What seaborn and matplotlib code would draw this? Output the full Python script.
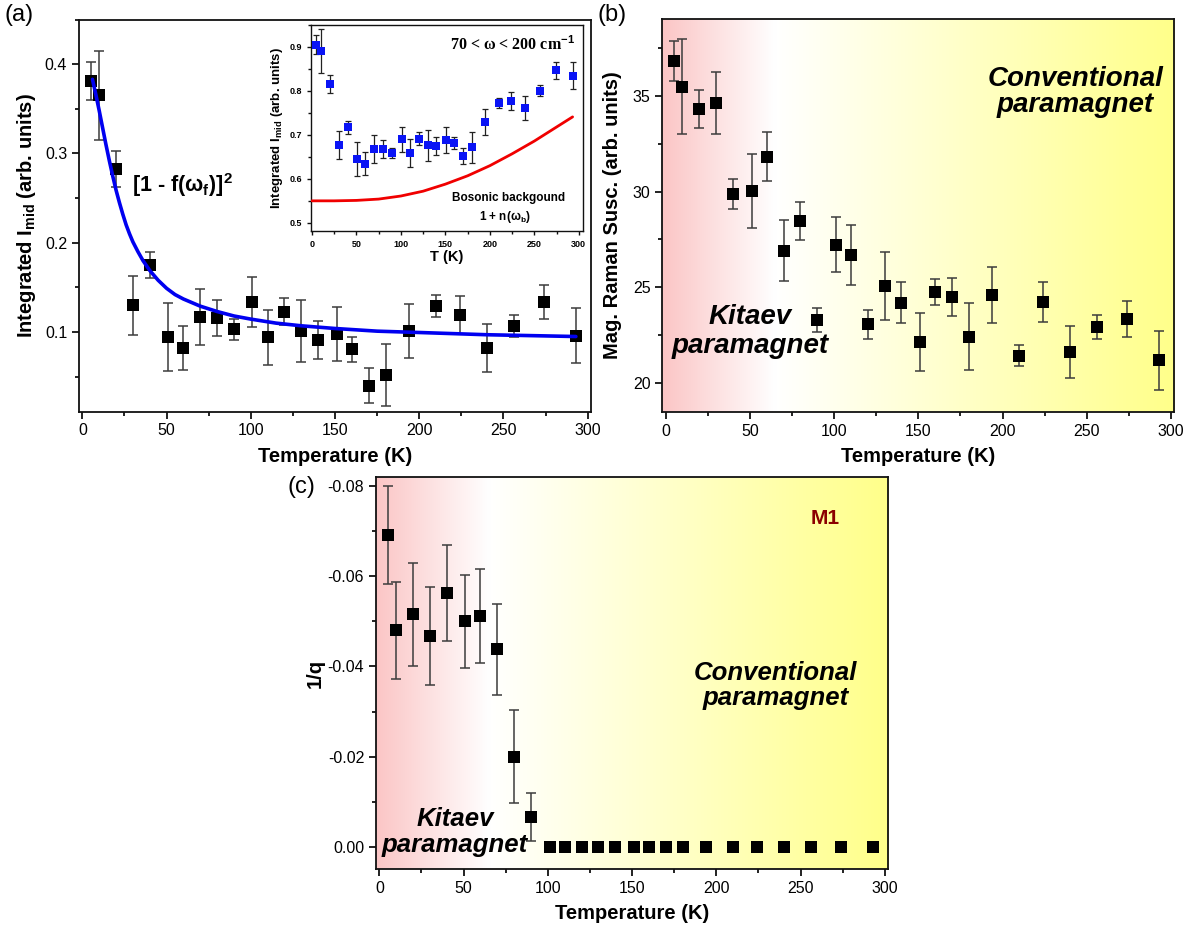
"""
Three-panel figure: integrated mid intensity, magnetic Raman susceptibility
and Fano asymmetry 1/q versus temperature
"""

import numpy as np
import matplotlib

matplotlib.use("Agg")
import matplotlib.pyplot as plt
from matplotlib.colors import LinearSegmentedColormap
from matplotlib.ticker import MultipleLocator, FormatStrFormatter
import seaborn as sns

# temperatures shared by every data set (K)
temps = [5, 10, 20, 30, 40, 51, 60, 70, 80, 90, 101, 110, 120, 130, 140,
         151, 160, 170, 180, 194, 210, 224, 240, 256, 274, 293]

# (a) integrated I_mid, main panel
imid = [0.381, 0.365, 0.283, 0.130, 0.175, 0.094, 0.082, 0.117, 0.116, 0.103,
        0.134, 0.094, 0.123, 0.101, 0.091, 0.098, 0.081, 0.040, 0.052, 0.101,
        0.129, 0.119, 0.082, 0.107, 0.134, 0.096]
imid_err = [0.021, 0.050, 0.020, 0.033, 0.015, 0.038, 0.025, 0.031, 0.020, 0.012,
            0.028, 0.031, 0.015, 0.035, 0.021, 0.030, 0.014, 0.020, 0.035, 0.030,
            0.012, 0.021, 0.027, 0.0125, 0.019, 0.031]

# [1 - f(w_f)]^2 fit curve
fit_T = [6, 8, 10, 12, 14, 16, 18, 20, 22, 24, 26, 28, 30, 33, 36, 40, 45, 50,
         55, 60, 70, 80, 90, 100, 115, 130, 150, 175, 200, 240, 293]
fit_vals = [0.383, 0.366, 0.348, 0.329, 0.310, 0.292, 0.275, 0.259, 0.245,
            0.232, 0.220, 0.210, 0.201, 0.190, 0.180, 0.169, 0.158, 0.149,
            0.142, 0.137, 0.129, 0.123, 0.118, 0.1145, 0.110, 0.107, 0.104,
            0.101, 0.0995, 0.097, 0.095]

# (a) inset: 70 < w < 200 cm-1
inset_vals = [0.905, 0.891, 0.816, 0.677, 0.717, 0.645, 0.634, 0.667, 0.668, 0.659,
              0.690, 0.659, 0.691, 0.676, 0.675, 0.689, 0.681, 0.652, 0.672, 0.730,
              0.772, 0.777, 0.761, 0.801, 0.847, 0.835]
inset_err = [0.022, 0.050, 0.020, 0.032, 0.015, 0.039, 0.026, 0.032, 0.020, 0.012,
             0.029, 0.031, 0.015, 0.036, 0.021, 0.030, 0.014, 0.019, 0.035, 0.030,
             0.011, 0.021, 0.027, 0.012, 0.019, 0.031]

# bosonic background 1 + n(w_b)
bg_T = [0, 25, 50, 75, 100, 125, 150, 175, 200, 225, 250, 275, 293]
bg_vals = [0.550, 0.550, 0.551, 0.554, 0.561, 0.572, 0.588, 0.607, 0.630,
           0.657, 0.686, 0.718, 0.741]

# (b) magnetic Raman susceptibility
susc = [36.85, 35.49, 34.32, 34.65, 29.89, 30.05, 31.81, 26.91, 28.45, 23.27,
        27.22, 26.68, 23.06, 25.06, 24.19, 22.12, 24.75, 24.50, 22.40, 24.58,
        21.40, 24.23, 21.60, 22.90, 23.32, 21.16]
susc_err = [1.05, 2.50, 0.99, 1.62, 0.79, 1.94, 1.28, 1.58, 1.00, 0.62,
            1.43, 1.55, 0.76, 1.80, 1.07, 1.50, 0.70, 0.99, 1.75, 1.48,
            0.55, 1.06, 1.37, 0.62, 0.94, 1.55]

# (c) Fano 1/q of mode M1
inv_q = [-0.0691, -0.0480, -0.0516, -0.0468, -0.0563, -0.0500, -0.0512, -0.0438,
         -0.0200, -0.0067, 0.0, 0.0, 0.0, 0.0, 0.0, 0.0, 0.0, 0.0, 0.0, 0.0,
         0.0, 0.0, 0.0, 0.0, 0.0, 0.0]
inv_q_err = [0.0108, 0.0107, 0.0114, 0.0108, 0.0107, 0.0103, 0.0105, 0.0101,
             0.0103, 0.0053, 0, 0, 0, 0, 0, 0, 0, 0, 0, 0, 0, 0, 0, 0, 0, 0]

sns.set_theme(style="ticks")
plt.rcParams["font.family"] = ["Liberation Sans", "DejaVu Sans"]
plt.rcParams["axes.unicode_minus"] = False
plt.rcParams["mathtext.fontset"] = "custom"
plt.rcParams["mathtext.rm"] = "Liberation Sans:bold"
plt.rcParams["mathtext.bf"] = "Liberation Sans:bold"
plt.rcParams["mathtext.default"] = "bf"
for key in ["text.color", "axes.labelcolor", "xtick.color", "ytick.color",
            "axes.edgecolor"]:
    plt.rcParams[key] = "black"

bg_cmap = LinearSegmentedColormap.from_list(
    "kitaev", [(0.0, "#fbc6c6"), (0.22, "#ffffff"), (1.0, "#ffff8a")]
)
ebar_kw = dict(fmt="none", ecolor="#3c3c3c", elinewidth=1.1, capsize=3.5, capthick=1.1)


def shade(ax):
    """Pink -> white -> yellow background"""
    ax.imshow(np.linspace(0, 1, 256).reshape(1, -1), cmap=bg_cmap, aspect="auto",
              extent=(0, 1, 0, 1), transform=ax.transAxes, zorder=0,
              interpolation="bilinear")


def style(ax, tick_size=11.5, bold=False, lw=1.3, major=5, minor=3):
    for sp in ax.spines.values():
        sp.set_visible(True)
        sp.set_linewidth(lw)
        sp.set_color("#111111")
    ax.tick_params(which="major", direction="out", length=major, width=lw,
                   labelsize=tick_size, top=False, right=False, color="#111111",
                   labelcolor="black")
    ax.tick_params(which="minor", direction="out", length=minor, width=lw,
                   top=False, right=False, color="#111111")
    if bold:
        for lab in ax.get_xticklabels() + ax.get_yticklabels():
            lab.set_fontweight("bold")
    ax.grid(False)


def temp_axis(ax):
    ax.set_xlim(-2, 302)
    ax.xaxis.set_major_locator(MultipleLocator(50))
    ax.xaxis.set_minor_locator(MultipleLocator(25))
    ax.set_xlabel("Temperature (K)", fontsize=14.5, fontweight="bold", labelpad=6)


fig = plt.figure(figsize=(11.95, 9.3), dpi=100)

# ---------------- (a) ----------------
ax_a = fig.add_axes([0.0661, 0.5575, 0.4285, 0.4215])
ax_a.errorbar(temps, imid, yerr=imid_err, zorder=2, **ebar_kw)
sns.scatterplot(x=temps, y=imid, marker="s", s=64, color="black", linewidth=0,
                ax=ax_a, zorder=3)
sns.lineplot(x=fit_T, y=fit_vals, sort=False, estimator=None, color="#0000f0",
             linewidth=2.6, ax=ax_a, zorder=4)
temp_axis(ax_a)
ax_a.set_ylim(0.011, 0.45)
ax_a.yaxis.set_major_locator(MultipleLocator(0.1))
ax_a.yaxis.set_minor_locator(MultipleLocator(0.05))
ax_a.yaxis.set_major_formatter(FormatStrFormatter("%.1f"))
ax_a.set_ylabel(r"Integrated I$_{\mathrm{mid}}$ (arb. units)", fontsize=14.5,
                fontweight="bold", labelpad=5)
ax_a.text(0.103, 0.578, r"[1 - f($\omega_\mathrm{f}$)]$^2$", transform=ax_a.transAxes,
          fontsize=15.5, fontweight="bold", ha="left", va="center")
style(ax_a)

# inset
ax_in = fig.add_axes([0.2603, 0.7519, 0.2278, 0.2212])
ax_in.set_facecolor("white")
ax_in.errorbar(temps, inset_vals, yerr=inset_err, fmt="none", ecolor="#222222",
               elinewidth=0.9, capsize=2.5, capthick=0.9, zorder=2)
sns.scatterplot(x=temps, y=inset_vals, marker="s", s=30, color="#0a14f5",
                linewidth=0, ax=ax_in, zorder=3)
sns.lineplot(x=bg_T, y=bg_vals, sort=False, estimator=None, color="#f00000",
             linewidth=2.0, ax=ax_in, zorder=4)
ax_in.set_xlim(-1, 305)
ax_in.set_ylim(0.482, 0.95)
ax_in.xaxis.set_major_locator(MultipleLocator(50))
ax_in.xaxis.set_minor_locator(MultipleLocator(25))
ax_in.yaxis.set_major_locator(MultipleLocator(0.1))
ax_in.yaxis.set_minor_locator(MultipleLocator(0.05))
ax_in.yaxis.set_major_formatter(FormatStrFormatter("%.1f"))
ax_in.set_xlabel("T (K)", fontsize=10.5, fontweight="bold", labelpad=1)
ax_in.set_ylabel(r"Integrated I$_{\mathrm{mid}}$ (arb. units)", fontsize=9.5,
                 fontweight="bold", labelpad=3)
ax_in.text(0.739, 0.903, "70 < \u03c9 < 200 cm$^{-1}$", transform=ax_in.transAxes,
           fontsize=11.5, fontweight="bold", family="Liberation Serif",
           ha="center", va="center")
ax_in.text(0.726, 0.159, "Bosonic backgound", transform=ax_in.transAxes,
           fontsize=8.5, fontweight="bold", ha="center", va="center")
ax_in.text(0.713, 0.067, r"1 + n($\omega_\mathrm{b}$)", transform=ax_in.transAxes,
           fontsize=8.5, fontweight="bold", ha="center", va="center")
style(ax_in, tick_size=6.5, bold=True, lw=1.0, major=3, minor=2)

# ---------------- (b) ----------------
ax_b = fig.add_axes([0.5542, 0.5573, 0.4285, 0.4223])
shade(ax_b)
ax_b.errorbar(temps, susc, yerr=susc_err, zorder=2, **ebar_kw)
sns.scatterplot(x=temps, y=susc, marker="s", s=64, color="black", linewidth=0,
                ax=ax_b, zorder=3)
temp_axis(ax_b)
ax_b.set_ylim(18.48, 39.03)
ax_b.yaxis.set_major_locator(MultipleLocator(5))
ax_b.yaxis.set_minor_locator(MultipleLocator(2.5))
ax_b.set_ylabel("Mag. Raman Susc. (arb. units)", fontsize=14.5, fontweight="bold",
                labelpad=8)
ax_b.text(0.171, 0.205, "Kitaev\nparamagnet", transform=ax_b.transAxes,
          fontsize=20, fontweight="bold", fontstyle="italic", ha="center",
          va="center", linespacing=1.15)
ax_b.text(0.807, 0.815, "Conventional\nparamagnet", transform=ax_b.transAxes,
          fontsize=20, fontweight="bold", fontstyle="italic", ha="center",
          va="center", linespacing=1.0)
style(ax_b)

# ---------------- (c) ----------------
ax_c = fig.add_axes([0.3146, 0.0653, 0.4287, 0.4215])
shade(ax_c)
n_err = 10
ax_c.errorbar(temps[:n_err], inv_q[:n_err], yerr=inv_q_err[:n_err], zorder=2, **ebar_kw)
sns.scatterplot(x=temps, y=inv_q, marker="s", s=64, color="black", linewidth=0,
                ax=ax_c, zorder=3)
temp_axis(ax_c)
ax_c.set_ylim(0.0049, -0.0819)
ax_c.yaxis.set_major_locator(MultipleLocator(0.02))
ax_c.yaxis.set_minor_locator(MultipleLocator(0.01))
ax_c.yaxis.set_major_formatter(FormatStrFormatter("%.2f"))
ax_c.set_ylabel("1/q", fontsize=14.5, fontweight="bold", labelpad=2)
ax_c.text(0.876, 0.896, "M1", transform=ax_c.transAxes, fontsize=15,
          fontweight="bold", color="#8b0000", ha="center", va="center")
ax_c.text(0.780, 0.468, "Conventional\nparamagnet", transform=ax_c.transAxes,
          fontsize=18.5, fontweight="bold", fontstyle="italic", ha="center",
          va="center", linespacing=1.05)
ax_c.text(0.154, 0.095, "Kitaev\nparamagnet", transform=ax_c.transAxes,
          fontsize=18.5, fontweight="bold", fontstyle="italic", ha="center",
          va="center", linespacing=1.1)
style(ax_c)

# panel labels
fig.text(0.004, 0.984, "(a)", fontsize=17, va="center", ha="left")
fig.text(0.5004, 0.984, "(b)", fontsize=17, va="center", ha="left")
fig.text(0.241, 0.4763, "(c)", fontsize=17, va="center", ha="left")

fig.savefig("out.png", dpi=100)
